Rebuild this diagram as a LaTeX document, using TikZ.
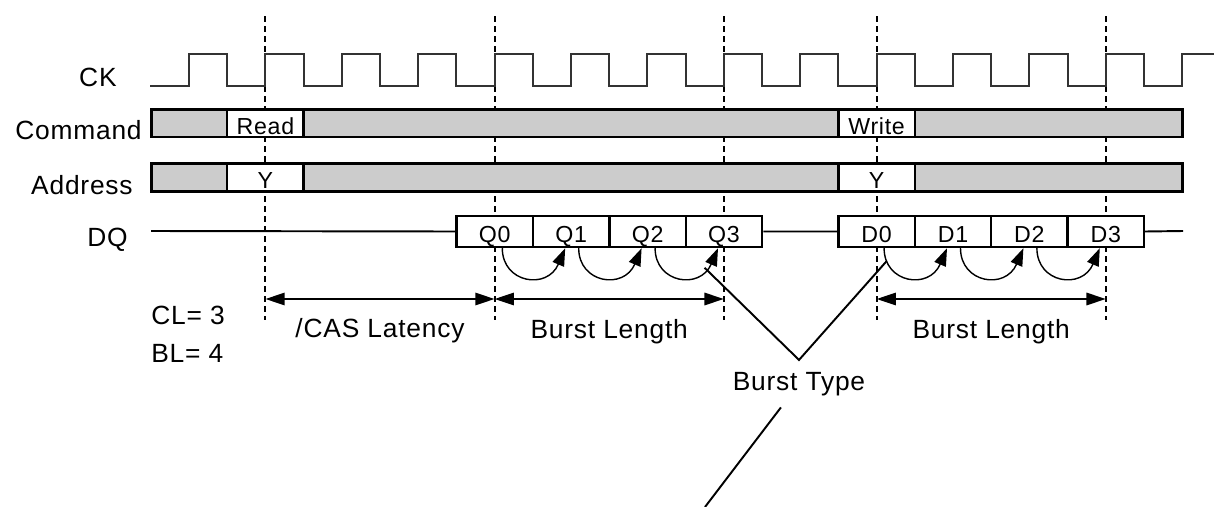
\documentclass[tikz,border=0pt]{standalone}
\usepackage{fontspec}
\setmainfont{Liberation Sans}[LetterSpace=3]
\usetikzlibrary{arrows.meta}
\begin{document}
\begin{tikzpicture}[x=0.02cm, y=-0.02cm,
    lbl/.style={font=\fontsize{15}{18}\selectfont, inner sep=0pt},
    cell/.style={draw, fill=white, line width=1.4pt, inner sep=0pt,
      minimum width=1.528cm, font=\fontsize{13.2}{16}\selectfont,
      text height=12.5pt, text depth=0pt},
    bus/.style={draw, line width=1.4pt, fill=black!20},
    guide/.style={line width=1.1pt, dash pattern=on 3.4pt off 2.3pt},
    dim/.style={line width=1.2pt, {Triangle[length=11pt,width=7pt]}-{Triangle[length=11pt,width=7pt]}},
    hop/.style={line width=0.8pt, -{Triangle[length=10pt,width=7pt]}},
    pointer/.style={line width=1.1pt}]
  \useasboundingbox (0,0) rectangle (1214,507);
  \foreach \k/\n in {1/a,4/b,7/c,9/d,12/e} {
    \draw[guide] ({189+76.4*\k},16) -- ({189+76.4*\k},320);
    \coordinate (m\n) at ({189+76.4*\k},299);
  }
  \draw[line width=1.1pt, black!80] (150,86) foreach \k in {0,...,12} { -| ({189+76.4*\k},54) -| ({227.2+76.4*\k},86) } -| (1182.2,54) -- (1214,54);
  \draw[bus] (151.3,109.5) rectangle (1182.5,137);
  \draw[bus] (151.3,163.5) rectangle (1182.5,191.5);
  \node[cell, minimum height=0.55cm] (rd) at (265.4,123.25) {Read};
  \node[cell, minimum height=0.55cm] (wr) at (876.6,123.25) {Write};
  \node[cell, minimum height=0.56cm] (ya) at (265.4,177.5) {Y};
  \node[cell, minimum height=0.56cm] (yb) at (876.6,177.5) {Y};
  \coordinate (dq-in) at (151,231);
  \coordinate (dq-out) at (1183,231);
  \foreach \k in {0,...,3} {
    \node[cell, minimum height=0.62cm] (q\k) at ({494.8+76.4*\k},231.5) {Q\k};
    \node[cell, minimum height=0.62cm] (d\k) at ({876.6+76.4*\k},231.5) {D\k};
  }
  \draw[line width=1.1pt] (dq-in) -- (q0.west) (q3.east) -- (d0.west) (d3.east) -- (dq-out);
  \foreach \i/\j in {0/1,1/2,2/3} {
    \draw[hop] ([shift={(7.5,0)}]q\i.south) .. controls +(0,35) and +(-18,42) .. ([shift={(-6,0)}]q\j.south) coordinate[pos=0.8] (qhop\i);
    \draw[hop] ([shift={(7.5,0)}]d\i.south) .. controls +(0,35) and +(-18,42) .. ([shift={(-6,0)}]d\j.south) coordinate[pos=0.14] (dhop\i);
  }
  \node[lbl, anchor=base east] (ck) at (117,86) {CK};
  \node[lbl, anchor=base east] (cmd) at (142,139.3) {Command};
  \node[lbl, anchor=base east] (addr) at (133,194.5) {Address};
  \node[lbl, anchor=base east] (dq) at (128,246.5) {DQ};
  \node[lbl, anchor=base west] (cl) at (151,324) {CL= 3};
  \node[lbl, anchor=base west] (bl) at (151,362) {BL= 4};
  \node[lbl, anchor=base] (cas) at (380,337) {/CAS Latency};
  \node[lbl, anchor=base] (blen1) at (609.2,338) {Burst Length};
  \node[lbl, anchor=base] (blen2) at (991.2,338) {Burst Length};
  \draw[dim] (ma) -- (mb);
  \draw[dim] (mb) -- (mc);
  \draw[dim] (md) -- (me);
  \node[lbl, inner sep=6.6pt, anchor=base] (btype) at (799,390) {Burst Type};
  \coordinate (bt-end) at (705,507);
  \draw[pointer] (qhop2) -- (btype.north) -- (dhop0);
  \draw[pointer] (btype) -- (bt-end);
\end{tikzpicture}
\end{document}
